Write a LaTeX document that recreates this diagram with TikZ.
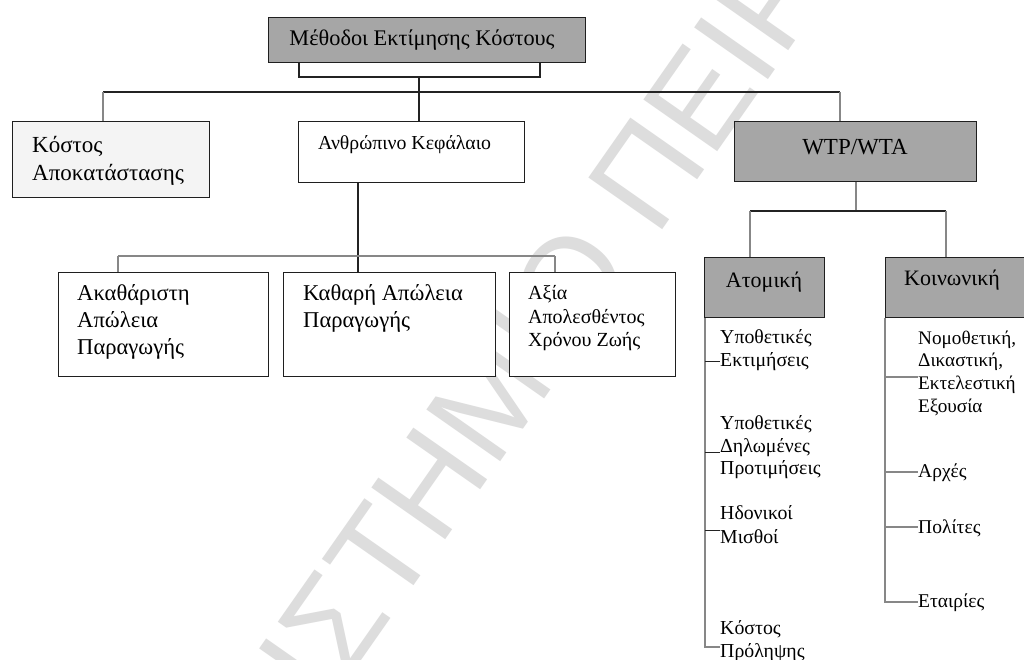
\documentclass[tikz,border=0pt]{standalone}
\usepackage{fontspec}
\setmainfont{Liberation Serif}
\newfontfamily\wmfont{Liberation Sans}
\newcommand\fsz[2]{\fontsize{#1}{#2}\selectfont}
\definecolor{boxgray}{RGB}{166,166,166}
\definecolor{boxlight}{RGB}{244,244,244}
\definecolor{lineD}{RGB}{35,35,35}
\definecolor{lineG}{RGB}{135,135,135}
\definecolor{wmgray}{RGB}{221,221,221}
\begin{document}
\begin{tikzpicture}[x=1pt,y=-1pt,
  boxnode/.style={draw=black!88, line width=1.3pt, inner sep=0pt, anchor=north west},
  dk/.style={draw=lineD, line width=1.1pt},
  gy/.style={draw=lineG, line width=1.1pt},
  lbl/.style={inner sep=0pt, anchor=west, align=left}]
\useasboundingbox[fill=white] (0,0) rectangle (1024,659);
% watermark
\begin{scope}
\clip (0,0) rectangle (1024,659);
\node[rotate=55, anchor=base west, inner sep=0pt, text=wmgray,
      font=\wmfont\fsz{131}{131}] (wm) at (394,614) {\llap{ΠΑΝΕΠΙΣ}ΤΗΜΙΟ ΠΕΙΡΑΙΩΣ};
\end{scope}
% boxes
\node[boxnode, fill=boxgray, minimum width=317pt, minimum height=45pt] (top) at (268,17) {};
\node[boxnode, fill=boxlight, minimum width=197pt, minimum height=76pt] (kostos) at (12,121) {};
\node[boxnode, fill=white, minimum width=226pt, minimum height=61pt] (anthr) at (298,121) {};
\node[boxnode, fill=boxgray, minimum width=242pt, minimum height=60pt] (wtp) at (734,121) {};
\node[boxnode, fill=white, minimum width=210pt, minimum height=104pt] (akath) at (58,272) {};
\node[boxnode, fill=white, minimum width=212pt, minimum height=104pt] (kathara) at (283,272) {};
\node[boxnode, fill=white, minimum width=166pt, minimum height=104pt] (axia) at (509,272) {};
\node[boxnode, fill=boxgray, minimum width=120pt, minimum height=60pt] (atom) at (704,257) {};
\node[boxnode, fill=boxgray, minimum width=150pt, minimum height=60pt] (koin) at (885,257) {};
% box texts
\node[inner sep=0pt, font=\fsz{22.3}{26}] (topT) at (422,40) {Μέθοδοι Εκτίμησης Κόστους};
\node[lbl, font=\fsz{23}{28}] (kostosT) at (32,161) {Κόστος\\Αποκατάστασης};
\node[lbl, font=\fsz{19.8}{23}] (anthrT) at (318,145) {Ανθρώπινο Κεφάλαιο};
\node[inner sep=0pt, font=\fsz{23}{27}] (wtpT) at (855,147) {WTP/WTA};
\node[lbl, font=\fsz{22.6}{27}] (akathT) at (77,321.5) {Ακαθάριστη\\Απώλεια\\Παραγωγής};
\node[lbl, font=\fsz{22.6}{27}] (katharaT) at (303,308.5) {Καθαρή Απώλεια\\Παραγωγής};
\node[lbl, font=\fsz{20}{23.5}] (axiaT) at (528,318.5) {Αξία\\Απολεσθέντος\\Χρόνου Ζωής};
\node[inner sep=0pt, font=\fsz{22}{26}] (atomT) at (764,282) {Ατομική};
\node[lbl, font=\fsz{22}{26}] (koinT) at (904,280) {Κοινωνική};
% list items
\node[lbl, font=\fsz{19.8}{23}] (i1) at (720,350) {Υποθετικές\\Εκτιμήσεις};
\node[lbl, font=\fsz{19.8}{22.5}] (i2) at (720,447.5) {Υποθετικές\\Δηλωμένες\\Προτιμήσεις};
\node[lbl, font=\fsz{19.8}{24}] (i3) at (720,525) {Ηδονικοί\\Μισθοί};
\node[lbl, font=\fsz{19.8}{23}] (i4) at (720,641.5) {Κόστος\\Πρόληψης};
\node[lbl, font=\fsz{19.2}{22.7}] (n1) at (918,373) {Νομοθετική,\\Δικαστική,\\Εκτελεστική\\Εξουσία};
\node[lbl, font=\fsz{19.5}{23}] (n2) at (918,473) {Αρχές};
\node[lbl, font=\fsz{19.5}{23}] (n3) at (918,528) {Πολίτες};
\node[lbl, font=\fsz{19.5}{23}] (n4) at (918,603) {Εταιρίες};
% connectors, top level
\coordinate (bL) at (299,77);
\coordinate (bR) at (540,77);
\coordinate (trunk) at (419,77);
\draw[dk] (bL |- top.south) -- (bL) -- (bR) -- (bR |- top.south);
\draw[dk] (trunk) -- (trunk |- anthr.north);
\coordinate (hL) at (103,92);
\coordinate (hR) at (840,92);
\draw[dk] (hL) -- (hR);
\draw[gy] (hL) -- (hL |- kostos.north);
\draw[gy] (hR) -- (hR |- wtp.north);
% human capital branch
\coordinate (aDown) at (358,256);
\draw[dk] (aDown |- anthr.south) -- (aDown |- kathara.north);
\coordinate (lL) at (118,256);
\coordinate (lR) at (555,256);
\draw[gy] (lL) -- (lR);
\draw[gy] (lL) -- (lL |- akath.north);
\draw[gy] (lR) -- (lR |- axia.north);
% WTP branch
\coordinate (wDown) at (856,211);
\coordinate (wL) at (750,211);
\coordinate (wR) at (946,211);
\draw[gy] (wDown |- wtp.south) -- (wDown);
\draw[dk] (wL) -- (wR);
\draw[gy] (wL) -- (wL |- atom.north);
\draw[gy] (wR) -- (wR |- koin.north);
% individual list
\coordinate (t1) at (705,361);
\coordinate (t2) at (705,452);
\coordinate (t3) at (705,530);
\coordinate (t4) at (705,647);
\draw[gy] (t4 |- atom.south) -- (t4) -- (t4 -| i4.west);
\draw[dk, line width=0.9pt] (t1) -- (t1 -| i1.west);
\draw[dk, line width=0.9pt] (t2) -- (t2 -| i2.west);
\draw[dk, line width=0.9pt] (t3) -- (t3 -| i3.west);
% social list
\coordinate (k1) at (885,377);
\coordinate (k2) at (885,472);
\coordinate (k3) at (885,527);
\coordinate (k4) at (885,602);
\draw[gy] (k4 |- koin.south) -- (k4) -- (k4 -| n4.west);
\draw[gy] (k1) -- (k1 -| n1.west);
\draw[gy] (k2) -- (k2 -| n2.west);
\draw[gy] (k3) -- (k3 -| n3.west);
\end{tikzpicture}
\end{document}
